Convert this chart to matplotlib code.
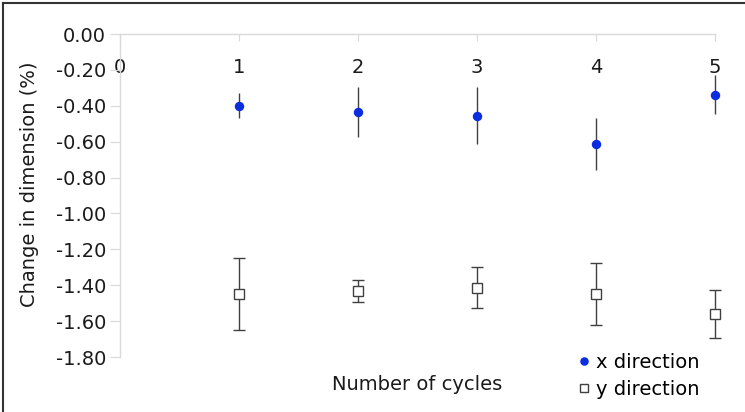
import matplotlib
matplotlib.use("Agg")
import matplotlib.pyplot as plt
from matplotlib.lines import Line2D

cycles = [1, 2, 3, 4, 5]
x_dir = [-0.40, -0.435, -0.455, -0.613, -0.338]
x_err = [0.07, 0.14, 0.16, 0.145, 0.11]
y_dir = [-1.447, -1.432, -1.414, -1.447, -1.562]
y_err = [0.20, 0.062, 0.113, 0.173, 0.134]
xticks = [0, 1, 2, 3, 4, 5]
yticks = [0.0, -0.2, -0.4, -0.6, -0.8, -1.0, -1.2, -1.4, -1.6, -1.8]

plt.rcParams['font.family'] = ['DejaVu Sans']
plt.rcParams['axes.unicode_minus'] = False
FS = 14

fig = plt.figure(figsize=(7.45, 4.12), dpi=100)
ax = fig.add_axes([120/745, 1-357/412, (715-120)/745, (357-34)/412])

grid_c = '#d9d9d9'
err_c = '#404040'
txt_c = '#1a1a1a'
c1 = ax.errorbar(cycles, x_dir, yerr=x_err, fmt='o', color='#0a2de0', markersize=6.8,
                 ecolor=err_c, elinewidth=1, capsize=4, capthick=1, markeredgewidth=0,
                 label='x direction', zorder=3)
c2 = ax.errorbar(cycles, y_dir, yerr=y_err, fmt='s', markerfacecolor='white',
                 markeredgecolor='#404040', markersize=7, markeredgewidth=1,
                 ecolor=err_c, elinewidth=1, capsize=4, capthick=1,
                 label='y direction', zorder=3)
for cont in (c1, c2):
    for art in [cont[0], *cont[1], *cont[2]]:
        art.set_clip_on(False)

ax.set_xlim(0, 5)
ax.set_ylim(-1.8, 0)
ax.set_xticks(xticks)
ax.set_xticklabels([str(v) for v in xticks])
ax.set_yticks(yticks)
ax.set_yticklabels([f"{v:.2f}" for v in yticks])

ax.xaxis.tick_top()
ax.tick_params(axis='x', top=True, bottom=False, labeltop=True, labelbottom=False,
               direction='in', length=5, color=grid_c, pad=-31, labelsize=FS, labelcolor=txt_c)
ax.tick_params(axis='y', direction='out', length=7, color=grid_c, labelsize=FS,
               labelcolor=txt_c, pad=3)

for s in ['right', 'bottom']:
    ax.spines[s].set_visible(False)
for s in ['left', 'top']:
    ax.spines[s].set_color(grid_c)
    ax.spines[s].set_linewidth(1)

ax.xaxis.set_label_position('bottom')
ax.set_xlabel('Number of cycles', fontsize=FS, color=txt_c, labelpad=13)
ax.set_ylabel('Change in dimension (%)', fontsize=FS, color=txt_c)
ax.yaxis.set_label_coords((39-120)/595, (357-184)/323)

leg = fig.legend(handles=[c1[0], c2[0]], labels=['x direction', 'y direction'],
                 loc='upper left', bbox_to_anchor=(579/745, 1-353/412),
                 frameon=False, fontsize=FS, handlelength=0.5, handletextpad=0.35,
                 borderpad=0, borderaxespad=0, labelspacing=0.4, markerscale=0.9)

fig.add_artist(Line2D([3/745, 1], [1-3/412, 1-3/412], color='#333333', linewidth=1.5,
                      transform=fig.transFigure))
fig.add_artist(Line2D([3/745, 3/745], [0, 1-3/412], color='#333333', linewidth=1.5,
                      transform=fig.transFigure))

fig.savefig('out.png', dpi=100)
